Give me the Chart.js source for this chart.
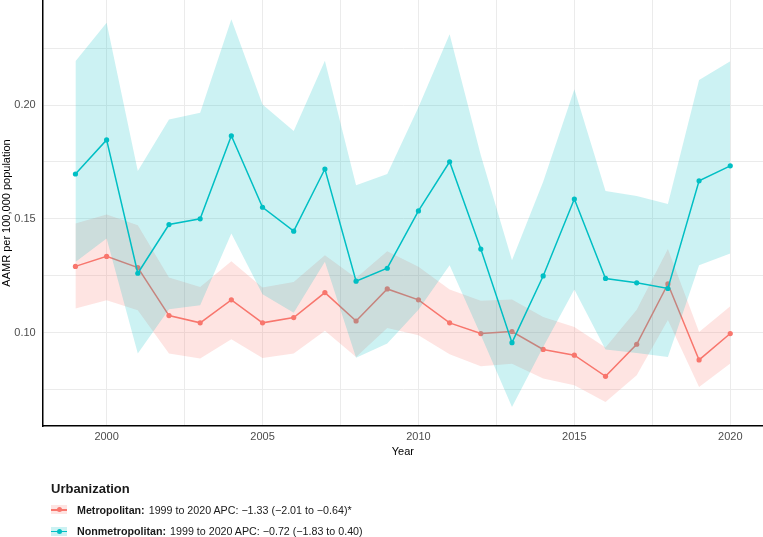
<!DOCTYPE html>
<html>
<head>
<meta charset="utf-8">
<script src="https://cdn.jsdelivr.net/npm/chart.js@4.4.1/dist/chart.umd.min.js"></script>
<style>
  html, body { margin: 0; padding: 0; background: #fff; }
  #wrap { position: relative; width: 763px; height: 537px; overflow: hidden; }
  #chart { position: absolute; left: 0; top: 0; }
  #legend { position: absolute; left: 51px; top: 479px; font-family: "Liberation Sans", Arial, sans-serif; color: #1a1a1a; }
  #legend .title { font-size: 13px; font-weight: bold; height: 20px; line-height: 20px; }
  #legend .item { display: flex; align-items: center; height: 21.5px; font-size: 10.7px; }
  #legend .key { position: relative; width: 16px; height: 9px; margin-right: 10px; }
  #legend .key .ln { position: absolute; left: 0; right: 0; top: 4px; height: 1.5px; }
  #legend .key .pt { position: absolute; left: 5.5px; top: 2px; width: 5px; height: 5px; border-radius: 50%; }
  #legend b { margin-right: 4px; }
</style>
</head>
<body>
<div id="wrap">
  <canvas id="chart" width="763" height="537"></canvas>
  <div id="legend"></div>
</div>
<script>
const years = [1999, 2000, 2001, 2002, 2003, 2004, 2005, 2006, 2007, 2008, 2009, 2010,
               2011, 2012, 2013, 2014, 2015, 2016, 2017, 2018, 2019, 2020];

const metroRate  = [0.1291, 0.1335, 0.1286, 0.1075, 0.1043, 0.1144, 0.1043, 0.1066, 0.1176, 0.1051, 0.1192,
                    0.1144, 0.1043, 0.0996, 0.1005, 0.0926, 0.0901, 0.0808, 0.0949, 0.1214, 0.0880, 0.0996];
const metroUpper = [0.1480, 0.1519, 0.1472, 0.1242, 0.1201, 0.1314, 0.1198, 0.1223, 0.1340, 0.1240, 0.1358,
                    0.1290, 0.1190, 0.1140, 0.1146, 0.1069, 0.1025, 0.0935, 0.1100, 0.1367, 0.1003, 0.1116];
const metroLower = [0.1106, 0.1142, 0.1098, 0.0908, 0.0886, 0.0971, 0.0889, 0.0908, 0.1008, 0.0893, 0.1020,
                    0.0989, 0.0905, 0.0852, 0.0863, 0.0798, 0.0769, 0.0695, 0.0813, 0.1055, 0.0761, 0.0864];

const nonmetroRate  = [0.1697, 0.1847, 0.1261, 0.1475, 0.1500, 0.1865, 0.1551, 0.1446, 0.1719, 0.1226, 0.1283,
                       0.1535, 0.1751, 0.1367, 0.0956, 0.1249, 0.1587, 0.1238, 0.1219, 0.1194, 0.1667, 0.1733];
const nonmetroUpper = [0.2193, 0.2362, 0.1710, 0.1937, 0.1966, 0.2377, 0.2003, 0.1886, 0.2195, 0.1648, 0.1697,
                       0.1990, 0.2311, 0.1780, 0.1318, 0.1663, 0.2069, 0.1622, 0.1600, 0.1565, 0.2110, 0.2193];
const nonmetroLower = [0.1310, 0.1414, 0.0908, 0.1103, 0.1120, 0.1436, 0.1169, 0.1087, 0.1311, 0.0890, 0.0952,
                       0.1100, 0.1296, 0.0990, 0.0673, 0.0937, 0.1190, 0.0926, 0.0910, 0.0893, 0.1296, 0.1348];

const xTicks = [2000, 2002.5, 2005, 2007.5, 2010, 2012.5, 2015, 2017.5, 2020];
const yTicks = [0.075, 0.10, 0.125, 0.15, 0.175, 0.20, 0.225];
const xLabels = [2000, 2005, 2010, 2015, 2020];
const yLabels = [0.10, 0.15, 0.20];

const groups = [
  { name: 'Metropolitan:', text: '1999 to 2020 APC: \u22121.33 (\u22122.01 to \u22120.64)*', color: '#F8766D', band: 'rgba(248,118,109,0.2)' },
  { name: 'Nonmetropolitan:', text: '1999 to 2020 APC: \u22120.72 (\u22121.83 to 0.40)', color: '#00BFC4', band: 'rgba(0,191,196,0.2)' }
];

function pts(vals) {
  return years.map((y, i) => ({ x: y, y: vals[i] }));
}

function lineSet(vals, color) {
  return {
    data: pts(vals),
    borderColor: color,
    backgroundColor: color,
    borderWidth: 1.5,
    pointRadius: 2.6,
    pointBorderWidth: 0,
    fill: false,
    tension: 0
  };
}

function bandSet(vals, color, fill) {
  return {
    data: pts(vals),
    borderColor: 'rgba(0,0,0,0)',
    borderWidth: 0,
    backgroundColor: color,
    pointRadius: 0,
    fill: fill,
    tension: 0
  };
}

// index 0 is drawn on top, so nonmetropolitan goes first
const datasets = [
  lineSet(nonmetroRate, groups[1].color),
  bandSet(nonmetroUpper, groups[1].band, '+1'),
  bandSet(nonmetroLower, groups[1].band, false),
  lineSet(metroRate, groups[0].color),
  bandSet(metroUpper, groups[0].band, '+1'),
  bandSet(metroLower, groups[0].band, false)
];

const font = { family: '"Liberation Sans", Arial, sans-serif', size: 11 };
const gridColor = '#ebebeb';

new Chart(document.getElementById('chart'), {
  type: 'line',
  data: { datasets: datasets },
  options: {
    responsive: false,
    animation: false,
    layout: { autoPadding: false, padding: { top: 0, right: 0, left: 0, bottom: 72 } },
    plugins: { legend: { display: false }, tooltip: { enabled: false } },
    scales: {
      x: {
        type: 'linear',
        min: 1997.95,
        max: 2021.05,
        afterBuildTicks: s => { s.ticks = xTicks.map(v => ({ value: v })); },
        afterFit: s => { s.height = 39; s.paddingLeft = 0; s.paddingRight = 0; },
        ticks: {
          color: '#4d4d4d',
          font: font,
          padding: 4,
          maxRotation: 0,
          autoSkip: false,
          callback: v => xLabels.includes(v) ? String(v) : ''
        },
        grid: { color: gridColor, lineWidth: 1, drawTicks: false },
        border: { display: true, color: '#000', width: 1.5 },
        title: { display: true, text: 'Year', color: '#000', font: font, padding: { top: 2, bottom: 6 } }
      },
      y: {
        type: 'linear',
        min: 0.05897,
        max: 0.24617,
        afterBuildTicks: s => { s.ticks = yTicks.map(v => ({ value: v })); },
        afterFit: s => { s.width = 42.7; s.paddingTop = 0; s.paddingBottom = 0; },
        ticks: {
          color: '#4d4d4d',
          font: font,
          padding: 7,
          autoSkip: false,
          callback: v => yLabels.some(l => Math.abs(l - v) < 1e-9) ? v.toFixed(2) : ''
        },
        grid: { color: gridColor, lineWidth: 1, drawTicks: false },
        border: { display: true, color: '#000', width: 1.5 },
        title: { display: true, text: 'AAMR per 100,000 population', color: '#000', font: font, padding: { top: 0, bottom: 2 } }
      }
    }
  }
});

// legend below the plot
const legend = document.getElementById('legend');
legend.innerHTML = '<div class="title">Urbanization</div>' + groups.map(g =>
  '<div class="item"><span class="key" style="background:' + g.band + '">' +
  '<span class="ln" style="background:' + g.color + '"></span>' +
  '<span class="pt" style="background:' + g.color + '"></span></span>' +
  '<b>' + g.name + '</b>' + g.text + '</div>'
).join('');
</script>
</body>
</html>
